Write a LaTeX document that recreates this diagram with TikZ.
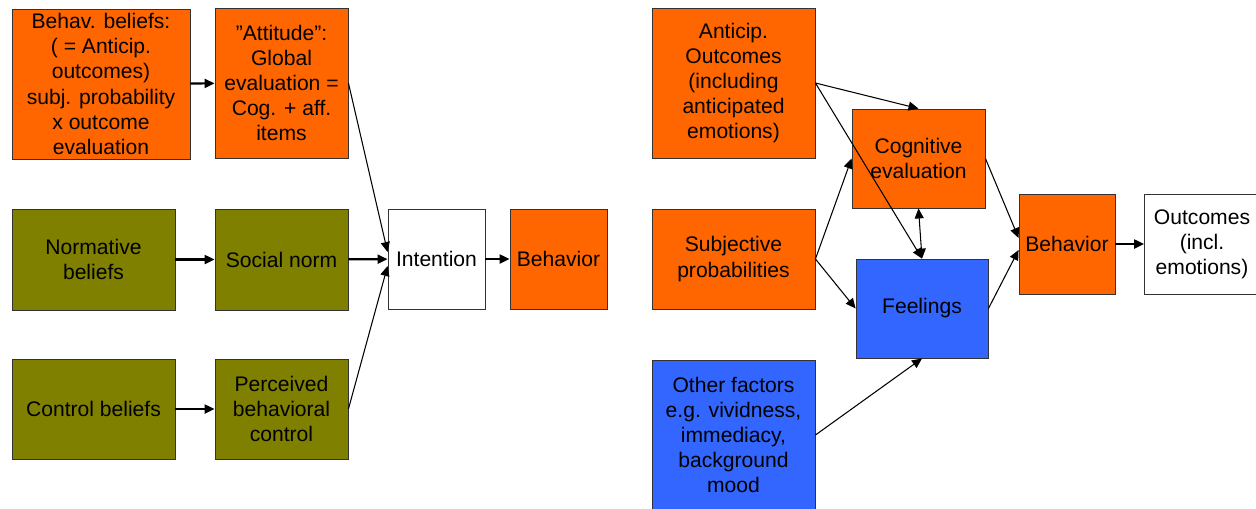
\documentclass[tikz,border=0pt]{standalone}
\usepackage{fontspec}
\setmainfont{Liberation Sans}
\usetikzlibrary{arrows.meta}
\definecolor{orng}{HTML}{FF6600}
\definecolor{olv}{HTML}{808000}
\definecolor{blu}{HTML}{3366FF}
\begin{document}
\begin{tikzpicture}[x=0.02cm, y=-0.02cm,
    box/.style = {draw=black!80, line width=0.5pt, align=center, inner sep=1pt,
                  font=\fontsize{12}{14.3}\selectfont},
    o/.style = {box, fill=orng}, g/.style = {box, fill=olv},
    b/.style = {box, fill=blu}, w/.style = {box, fill=white},
    arr/.style = {-{Triangle[length=2mm, width=1.8mm]}, line width=1.2pt},
    thin/.style = {-{Triangle[length=2mm, width=1.8mm]}, line width=0.6pt}]
    \useasboundingbox (0,0) rectangle (1256,508);
    % left model
    \node[o, minimum width=3.56cm, minimum height=3cm] (bb) at (101,84) {Behav. beliefs:\\( = Anticip.\\outcomes)\\subj. probability\\x outcome\\evaluation};
    \node[o, minimum width=2.66cm, minimum height=3cm] (att) at (281.5,83) {”Attitude”:\\Global\\evaluation =\\Cog. + aff.\\items};
    \node[g, minimum width=3.26cm, minimum height=2.02cm] (nb) at (93.5,259.5) {Normative\\beliefs};
    \node[g, minimum width=2.66cm, minimum height=2.02cm] (sn) at (281.5,259.5) {Social norm};
    \node[g, minimum width=3.26cm, minimum height=2cm] (cb) at (93.5,409) {Control beliefs};
    \node[g, minimum width=2.66cm, minimum height=2cm] (pbc) at (281.5,409) {Perceived\\behavioral\\control};
    \node[w, minimum width=1.94cm, minimum height=2cm] (int) at (436.5,259) {Intention};
    \node[o, minimum width=1.94cm, minimum height=2cm] (beh) at (558.5,259) {Behavior};
    \draw[arr] (bb) -- (att);
    \draw[arr] (nb) -- (sn);
    \draw[arr] (cb) -- (pbc);
    \draw[arr] (sn) -- (int);
    \draw[arr] (int) -- (beh);
    \draw[thin] (att.east) -- ([yshift=0.14cm]int.west);
    \draw[thin] (pbc.east) -- ([yshift=-0.14cm]int.west);
    % right model
    \node[o, minimum width=3.26cm, minimum height=3cm] (ao) at (733.5,83) {Anticip.\\Outcomes\\(including\\anticipated\\emotions)};
    \node[o, minimum width=3.26cm, minimum height=2cm] (sp) at (733.5,259) {Subjective\\probabilities};
    \node[b, minimum width=3.26cm, minimum height=3cm] (of) at (733.5,435) {Other factors\\e.g. vividness,\\immediacy,\\background\\mood};
    \node[o, minimum width=2.66cm, minimum height=1.98cm] (cog) at (918.5,158.5) {Cognitive\\evaluation};
    \node[b, minimum width=2.64cm, minimum height=1.98cm] (fe) at (922,308.5) {Feelings};
    \node[o, minimum width=1.92cm, minimum height=2cm] (beh2) at (1067,244) {Behavior};
    \node[w, minimum width=2.3cm, minimum height=2cm] (out) at (1202,244) {Outcomes\\(incl.\\emotions)};
    \draw[thin] (ao.east) -- (cog.north);
    \draw[thin] (ao.east) -- (fe.north);
    \draw[thin] (sp.east) -- (cog.west);
    \draw[thin] (sp.east) -- (fe.west);
    \draw[thin, {Triangle[length=2mm, width=1.8mm]}-{Triangle[length=2mm, width=1.8mm]}] (cog.south) -- (fe.north);
    \draw[thin] (cog.east) -- ([yshift=0.12cm]beh2.west);
    \draw[thin] (fe.east) -- ([yshift=-0.12cm]beh2.west);
    \draw[thin] (of.east) -- (fe.south);
    \draw[arr] (beh2) -- (out);
\end{tikzpicture}
\end{document}
